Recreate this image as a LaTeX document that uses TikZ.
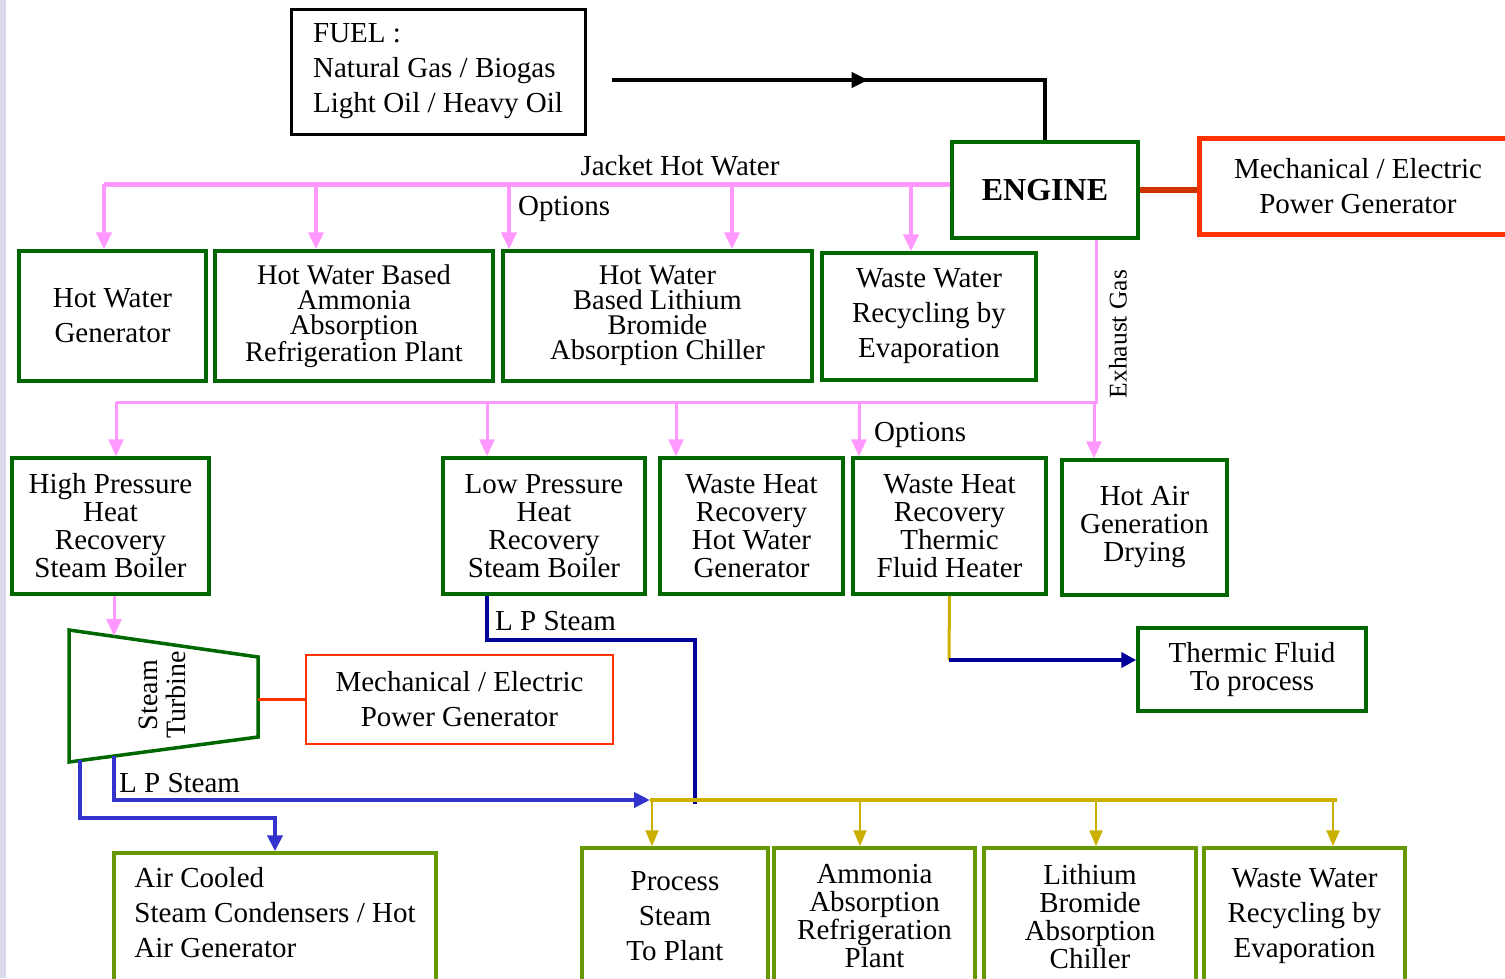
\documentclass[tikz,border=0pt]{standalone}
\usepackage{fontspec}
\setmainfont{Liberation Serif}
\usetikzlibrary{positioning,arrows.meta,decorations.markings}

\definecolor{boxgreen}{HTML}{006600}
\definecolor{plantgreen}{HTML}{669900}
\definecolor{jacketpink}{HTML}{FF99FF}
\definecolor{powerred}{HTML}{FF3300}
\definecolor{shaftred}{HTML}{CC3300}
\definecolor{lpnavy}{HTML}{000099}
\definecolor{lpblue}{HTML}{3333CC}
\definecolor{busyellow}{HTML}{CCB000}
\definecolor{sidebar}{HTML}{DADAEC}

\newcommand{\loosetext}{\fontsize{29}{35}\selectfont}
\newcommand{\tighttext}{\fontsize{29}{28}\selectfont}
\newcommand{\crampedtext}{\fontsize{28.5}{25}\selectfont}

\begin{document}
\begin{tikzpicture}[
    x=1pt, y=-1pt,
    unit/.style={%
      draw=boxgreen,
      line width=3.5pt,
      align=center,
      inner sep=0pt,
      font=\tighttext,
    },
    plant/.style={unit, draw=plantgreen},
    power/.style={draw=powerred, align=center, inner sep=0pt, font=\loosetext},
    tag/.style={inner sep=0pt, font=\loosetext},
    jacket/.style={draw=jacketpink, line width=5pt},
    exhaust/.style={draw=jacketpink, line width=3pt},
    pinkarrow/.style={draw=jacketpink, line width=4pt, -{Triangle[width=15pt,length=17pt]}},
    steamarrow/.style={draw=lpblue, line width=4pt, -{Triangle[width=15pt,length=16pt]}},
    busarrow/.style={draw=busyellow, line width=2.5pt, -{Triangle[width=13pt,length=16pt]}},
    bus/.style={draw=busyellow, line width=4pt},
    shaft/.style={draw=shaftred, line width=6pt},
  ]
    \useasboundingbox (0,0) rectangle (1505,978);
    \clip (0,0) rectangle (1505,978);
    \fill[sidebar] (0,0) rectangle (6,978);

    % fuel, engine and generator
    \node [draw, line width=3pt, align=left, font=\loosetext, inner sep=0pt,
      minimum width=294pt, minimum height=125pt] (fuel) at (438,71.5)
      {FUEL :\\Natural Gas / Biogas\\Light Oil / Heavy Oil};
    \node [unit, minimum width=186pt, minimum height=96pt,
      font=\fontsize{32}{32}\selectfont\bfseries] (engine) at (1045,190) {ENGINE};
    \node [power, line width=5pt, minimum width=318pt, minimum height=96pt]
      (power) at (1358,186) {Mechanical / Electric\\Power Generator};

    % jacket hot water row
    \node [unit, minimum width=187pt, minimum height=130pt, font=\loosetext]
      (hwg) at (112.5,316) {Hot Water\\Generator};
    \path (hwg) ++(241.5,0) node [unit, minimum width=278pt, minimum height=130pt,
      font=\crampedtext] (nh3hw) {Hot Water Based\\Ammonia\\Absorption\\Refrigeration Plant};
    \path (nh3hw) ++(303.5,0) node [unit, minimum width=309pt, minimum height=130pt,
      font=\crampedtext] (librhw) {Hot Water\\Based Lithium\\Bromide\\Absorption Chiller};
    \path (librhw) ++(271.5,0.5) node [unit, minimum width=214pt, minimum height=127pt,
      font=\loosetext] (wwtop) {Waste Water\\Recycling by\\Evaporation};

    % exhaust gas row
    \node [unit, minimum width=197pt, minimum height=136pt]
      (hprb) at (110.5,526) {High Pressure\\Heat\\Recovery\\Steam Boiler};
    \path (hprb) ++(433.5,0) node [unit, minimum width=202pt, minimum height=136pt]
      (lprb) {Low Pressure\\Heat\\Recovery\\Steam Boiler};
    \path (lprb) ++(207.5,0) node [unit, minimum width=183pt, minimum height=136pt]
      (whrhw) {Waste Heat\\Recovery\\Hot Water\\Generator};
    \path (whrhw) ++(198,0) node [unit, minimum width=193pt, minimum height=136pt]
      (whrtf) {Waste Heat\\Recovery\\Thermic\\Fluid Heater};
    \path (whrtf) ++(195,1.5) node [unit, minimum width=165pt, minimum height=135pt]
      (hotair) {Hot Air\\Generation\\Drying};
    \node [unit, minimum width=228pt, minimum height=83pt]
      (tfproc) at (1252,669.5) {Thermic Fluid\\To process};

    % steam turbine
    \coordinate (tbtl) at (69,630);
    \coordinate (tbtr) at (258,657);
    \coordinate (tbbr) at (258,737);
    \coordinate (tbbl) at (69,762);
    \draw [boxgreen, line width=3.5pt] (tbtl) -- (tbtr) -- (tbbr) -- (tbbl) -- cycle;
    \node [rotate=90, align=center, inner sep=0pt, font=\fontsize{28}{28}\selectfont]
      (turbine) at (162,695) {Steam\\Turbine};
    \node [power, line width=2.5pt, minimum width=307pt, minimum height=89pt]
      (power2) at (459.5,699.5) {Mechanical / Electric\\Power Generator};
    \node [plant, align=left, font=\loosetext, minimum width=322pt,
      minimum height=153pt] (aircool) at (275,929.5)
      {Air Cooled\\Steam Condensers / Hot\\Air Generator\\\mbox{}};

    % steam users
    \node [plant, minimum width=186pt, minimum height=137pt, font=\loosetext]
      (procsteam) at (675,916.5) {Process\\Steam\\To Plant};
    \path (procsteam) ++(199.5,0) node [plant, minimum width=201pt, minimum height=137pt]
      (nh3bot) {Ammonia\\Absorption\\Refrigeration\\Plant};
    \path (nh3bot) ++(215.5,0) node [plant, minimum width=212pt, minimum height=137pt]
      (librbot) {Lithium\\Bromide\\Absorption\\Chiller};
    \path (librbot) ++(214.5,0) node [plant, minimum width=201pt, minimum height=137pt,
      font=\loosetext] (wwbot) {Waste Water\\Recycling by\\Evaporation};

    % fuel line
    \coordinate (fuelout) at (612,80);
    \draw [line width=4.5pt, postaction={decorate}, decoration={markings,
      mark=at position 0.52 with {\arrow{Triangle[width=15pt,length=17pt]}}}]
      (fuelout) -- (fuelout -| engine.north) -- (engine.north);
    \draw [shaft] (engine.east) -- (engine.east -| power.west);

    % jacket hot water
    \coordinate (jhw) at ([yshift=6pt]engine.west);
    \draw [jacket] (jhw) -- ([xshift=-8.5pt]hwg.north |- jhw);
    \draw [pinkarrow] ([xshift=-8.5pt]hwg.north |- jhw) -- ([xshift=-8.5pt]hwg.north);
    \draw [pinkarrow] ([xshift=-38pt]nh3hw.north |- jhw) -- ([xshift=-38pt]nh3hw.north);
    \draw [pinkarrow] ([xshift=-148.5pt]librhw.north |- jhw) -- ([xshift=-148.5pt]librhw.north);
    \draw [pinkarrow] ([xshift=74.5pt]librhw.north |- jhw) -- ([xshift=74.5pt]librhw.north);
    \draw [pinkarrow] ([xshift=-18pt]wwtop.north |- jhw) -- ([xshift=-18pt]wwtop.north);
    \node [tag] (jhwtxt) at (680,166) {Jacket Hot Water};
    \node [tag, anchor=west] (opt1) at (518,209) {Options};

    % exhaust gas
    \coordinate (exh) at (1096,402);
    \draw [exhaust] (exh |- engine.south) -- (exh) -- ([xshift=5.5pt]hprb.north |- exh);
    \draw [pinkarrow, line width=3pt] ([xshift=5.5pt]hprb.north |- exh) -- ([xshift=5.5pt]hprb.north);
    \draw [pinkarrow, line width=3pt] ([xshift=-57pt]lprb.north |- exh) -- ([xshift=-57pt]lprb.north);
    \draw [pinkarrow, line width=3pt] ([xshift=-75.5pt]whrhw.north |- exh) -- ([xshift=-75.5pt]whrhw.north);
    \draw [pinkarrow, line width=3pt] ([xshift=-90.5pt]whrtf.north |- exh) -- ([xshift=-90.5pt]whrtf.north);
    \draw [pinkarrow, line width=3pt] ([xshift=-50.5pt]hotair.north |- exh) -- ([xshift=-50.5pt]hotair.north);
    \node [rotate=90, inner sep=0pt, font=\fontsize{25.5}{28}\selectfont] (exhtxt) at (1118,334) {Exhaust Gas};
    \node [tag, anchor=west] (opt2) at (874,435) {Options};

    % steam lines
    \coordinate (tin) at (114,636);
    \draw [pinkarrow, line width=3pt] ([xshift=3.5pt]hprb.south) -- (tin);
    \draw [draw=powerred, line width=2.5pt] (power2.west) -- (power2.west -| tbtr);
    \coordinate (lpturn) at (695,640);
    \coordinate (lpend) at (695,804);
    \draw [draw=lpnavy, line width=4pt] ([xshift=-57pt]lprb.south) |- (lpturn) -- (lpend);
    \node [tag, anchor=west] (lp1) at (495,621) {L P Steam};
    \coordinate (tout) at (114,756);
    \coordinate (busin) at (650,800);
    \draw [steamarrow] (tout) |- (busin);
    \node [tag, anchor=west] (lp2) at (119,783) {L P Steam};
    \coordinate (tcond) at (80,760);
    \coordinate (condturn) at (275,818);
    \draw [steamarrow] (tcond) |- (condturn) -- (aircool.north);

    % steam bus
    \coordinate (busend) at (1337,800);
    \draw [bus] (busin) -- (busend);
    \draw [busarrow] ([xshift=-23pt]procsteam.north |- busin) -- ([xshift=-23pt]procsteam.north);
    \draw [busarrow] ([xshift=-14.5pt]nh3bot.north |- busin) -- ([xshift=-14.5pt]nh3bot.north);
    \draw [busarrow] ([xshift=6pt]librbot.north |- busin) -- ([xshift=6pt]librbot.north);
    \draw [busarrow] ([xshift=28.5pt]wwbot.north |- busin) -- ([xshift=28.5pt]wwbot.north);

    % thermic fluid
    \coordinate (tfturn) at (949,660);
    \draw [draw=busyellow, line width=3pt] (whrtf.south) -- (tfturn);
    \draw [draw=lpnavy, line width=4pt, -{Triangle[width=15pt,length=15pt]}] (tfturn) -- (tfturn -| tfproc.west);
\end{tikzpicture}
\end{document}
